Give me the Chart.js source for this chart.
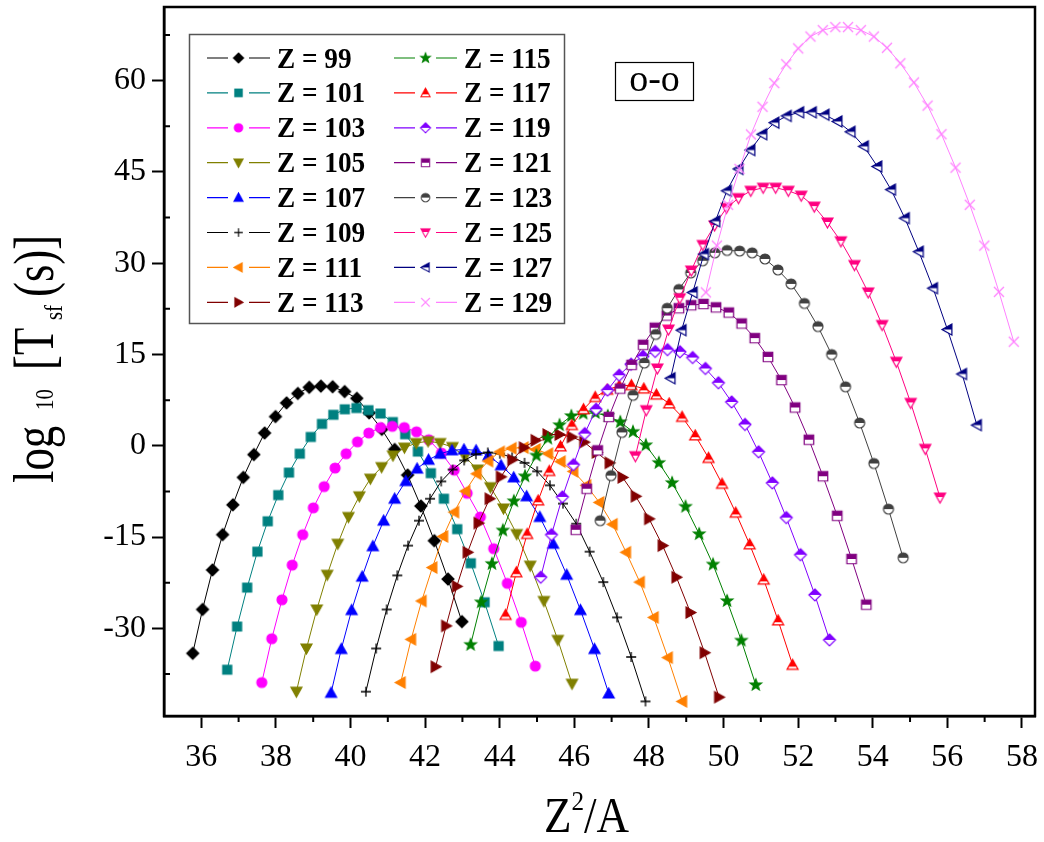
<!DOCTYPE html>
<html>
<head>
<meta charset="utf-8">
<script src="https://cdn.jsdelivr.net/npm/chart.js@4.4.1/dist/chart.umd.min.js"></script>
<style>
html,body{margin:0;padding:0;background:#ffffff;}
#wrap{position:relative;width:1044px;height:842px;}
</style>
</head>
<body>
<div id="wrap"><canvas id="chart" width="1044" height="842"></canvas></div>
<script>
// ---------------- data ----------------
const zValues = [99,101,103,105,107,109,111,113,115,117,119,121,123,125,127,129];
const xTickValues = [36,38,40,42,44,46,48,50,52,54,56,58];
const yTickValues = [-30,-15,0,15,30,45,60];
const xMinorValues = [37,39,41,43,45,47,49,51,53,55,57];
const yMinorValues = [-37.5,-22.5,-7.5,7.5,22.5,37.5,52.5,67.5];

const x99 = [35.770,36.033,36.300,36.571,36.846,37.125,37.408,37.696,37.988,38.285,38.587,38.893,39.204,39.520,39.841,40.168,40.500,40.838,41.181,41.530,41.885,42.246,42.613,42.987];
const y99 = [-34.1,-26.9,-20.4,-14.6,-9.7,-5.2,-1.45,2.1,4.8,7.05,8.6,9.6,9.8,9.7,8.9,7.8,5.4,2.7,-0.6,-4.8,-9.9,-15.6,-21.9,-28.9];
const x101 = [36.694,36.960,37.230,37.504,37.781,38.063,38.350,38.640,38.935,39.235,39.539,39.848,40.161,40.480,40.804,41.133,41.467,41.807,42.153,42.504,42.861,43.225,43.594,43.970];
const y101 = [-36.8,-29.7,-23.3,-17.4,-12.4,-8.1,-4.4,-1.3,1.45,3.6,5.1,6.0,6.2,5.85,5.3,3.9,1.9,-0.95,-4.5,-8.7,-13.7,-19.3,-25.7,-32.9];
const x103 = [37.621,37.889,38.162,38.438,38.719,39.004,39.293,39.586,39.883,40.186,40.492,40.804,41.120,41.441,41.768,42.099,42.436,42.778,43.126,43.480,43.839,44.204,44.576,44.953];
const y103 = [-38.9,-31.7,-25.3,-19.6,-14.6,-10.2,-6.7,-3.65,-1.3,0.65,2.1,3.0,3.2,3.0,2.3,1.0,-1.2,-4.0,-7.8,-11.7,-16.9,-22.6,-29.0,-36.2];
const x105 = [38.549,38.820,39.096,39.375,39.658,39.946,40.237,40.533,40.833,41.138,41.447,41.761,42.080,42.404,42.733,43.066,43.406,43.750,44.100,44.456,44.817,45.184,45.558,45.938];
const y105 = [-40.4,-33.3,-26.9,-21.2,-16.1,-11.7,-8.3,-5.4,-3.5,-1.6,-0.3,0.45,0.75,0.45,-0.2,-1.8,-3.9,-6.8,-10.3,-14.5,-19.7,-25.5,-31.9,-39.1];
const x107 = [39.479,39.753,40.031,40.313,40.599,40.889,41.183,41.482,41.785,42.092,42.404,42.720,43.041,43.367,43.698,44.035,44.376,44.723,45.075,45.433,45.796,46.165,46.541,46.922];
const y107 = [-40.6,-33.4,-27.0,-21.5,-16.5,-12.3,-8.7,-5.8,-3.75,-2.3,-1.3,-0.75,-0.6,-0.75,-1.6,-3.2,-5.2,-8.3,-11.7,-16.1,-21.2,-27.0,-33.4,-40.7];
const x109 = [40.412,40.688,40.969,41.254,41.542,41.835,42.131,42.432,42.737,43.047,43.361,43.680,44.004,44.332,44.665,45.004,45.347,45.696,46.051,46.410,46.776,47.147,47.524,47.907];
const y109 = [-40.4,-33.3,-26.9,-21.3,-16.4,-12.3,-8.7,-5.85,-3.9,-2.4,-1.4,-1.1,-1.3,-1.9,-2.8,-4.2,-6.5,-9.5,-12.8,-17.4,-22.4,-28.2,-34.7,-42.0];
const x111 = [41.346,41.625,41.908,42.195,42.486,42.781,43.080,43.384,43.691,44.004,44.320,44.641,44.967,45.298,45.633,45.974,46.320,46.670,47.027,47.388,47.756,48.129,48.508,48.893];
const y111 = [-38.9,-31.8,-25.5,-20.0,-14.9,-10.9,-7.45,-4.6,-2.5,-1.0,-0.4,-0.3,-0.6,-1.3,-2.6,-4.2,-6.5,-9.3,-12.9,-17.5,-22.4,-28.2,-34.8,-42.0];
const x113 = [42.281,42.563,42.849,43.139,43.432,43.729,44.031,44.337,44.647,44.961,45.280,45.604,45.932,46.264,46.602,46.945,47.293,47.646,48.004,48.367,48.737,49.112,49.492,49.879];
const y113 = [-36.3,-29.6,-23.1,-17.5,-12.7,-8.7,-5.1,-2.3,-0.3,0.9,1.85,1.85,1.45,0.6,-1.1,-2.8,-5.2,-8.3,-12.0,-16.4,-21.6,-27.4,-34.0,-41.3];
const x115 = [43.219,43.503,43.791,44.083,44.379,44.679,44.983,45.291,45.603,45.920,46.241,46.567,46.897,47.232,47.572,47.917,48.266,48.621,48.981,49.347,49.718,50.095,50.477,50.865];
const y115 = [-32.7,-25.7,-19.4,-13.9,-9.1,-5.0,-1.6,1.2,3.4,4.9,5.3,5.4,4.9,3.9,2.3,0.1,-2.8,-6.1,-10.0,-14.5,-19.5,-25.5,-32.0,-39.3];
const x117 = [44.158,44.445,44.735,45.030,45.328,45.630,45.936,46.247,46.561,46.880,47.203,47.531,47.864,48.201,48.543,48.889,49.241,49.598,49.960,50.327,50.700,51.078,51.462,51.852];
const y117 = [-27.8,-20.8,-14.5,-9.0,-4.15,-0.1,3.4,6.0,8.0,9.2,9.85,9.95,9.4,8.4,6.95,4.75,1.7,-2.0,-6.25,-11.0,-16.2,-22.0,-28.7,-36.0];
const x119 = [45.099,45.388,45.681,45.977,46.278,46.582,46.891,47.203,47.520,47.841,48.167,48.497,48.831,49.170,49.514,49.863,50.216,50.575,50.939,51.308,51.682,52.063,52.448,52.840];
const y119 = [-21.6,-14.6,-8.4,-3.1,2.0,6.0,9.15,11.6,13.4,14.7,15.5,15.8,15.45,14.5,12.7,10.35,7.2,3.5,-1.0,-6.1,-11.8,-17.9,-24.5,-31.9];
const x121 = [46.041,46.332,46.627,46.926,47.229,47.536,47.846,48.161,48.480,48.803,49.131,49.463,49.799,50.140,50.486,50.837,51.192,51.553,51.918,52.289,52.665,53.047,53.434,53.827];
const y121 = [-13.8,-7.05,-0.75,4.75,9.4,13.3,16.6,19.4,21.4,22.6,23.1,23.3,22.75,21.9,20.1,17.7,14.6,10.8,6.3,1.0,-5.0,-11.5,-18.6,-26.1];
const x123 = [46.694,46.984,47.278,47.575,47.877,48.182,48.490,48.803,49.120,49.441,49.766,50.096,50.430,50.768,51.111,51.459,51.812,52.169,52.531,52.899,53.271,53.649,54.032,54.421,54.815];
const y123 = [-12.3,-4.9,2.2,8.3,13.6,18.3,22.6,25.7,28.4,30.4,31.7,32.1,32.0,31.7,30.7,28.9,26.6,23.4,19.6,15.0,9.7,3.75,-2.9,-10.4,-18.4];
const x125 = [47.637,47.929,48.225,48.525,48.828,49.135,49.446,49.761,50.080,50.403,50.731,51.062,51.398,51.738,52.083,52.433,52.787,53.146,53.510,53.879,54.253,54.633,55.018,55.408,55.804];
const y125 = [-1.7,5.85,12.7,19.1,24.25,28.8,33.0,36.2,39.1,40.7,41.9,42.4,42.4,41.9,41.1,39.3,36.7,33.6,29.7,25.2,19.85,13.8,7.05,-0.5,-8.5];
const x127 = [48.581,48.876,49.174,49.475,49.781,50.090,50.403,50.720,51.041,51.366,51.696,52.029,52.367,52.709,53.056,53.407,53.763,54.124,54.490,54.861,55.236,55.617,56.003,56.395,56.792];
const y127 = [11.1,19.0,25.2,31.5,36.9,41.9,45.5,48.6,51.2,53.1,54.2,54.8,54.8,54.4,53.3,51.6,49.2,45.9,42.1,37.4,31.9,25.9,19.1,11.8,3.4];
const x129 = [49.527,49.823,50.123,50.427,50.735,51.046,51.361,51.680,52.003,52.330,52.661,52.997,53.337,53.681,54.029,54.382,54.740,55.103,55.470,55.842,56.220,56.602,56.990,57.383,57.781];
const y129 = [25.2,32.9,39.6,45.5,51.15,55.7,59.6,62.7,65.3,67.25,68.3,68.8,68.8,68.3,67.25,65.4,62.85,59.7,55.9,51.2,45.7,39.6,32.9,25.3,17.1];

const seriesX = [x99,x101,x103,x105,x107,x109,x111,x113,x115,x117,x119,x121,x123,x125,x127,x129];
const seriesY = [y99,y101,y103,y105,y107,y109,y111,y113,y115,y117,y119,y121,y123,y125,y127,y129];

// ---------------- styles ----------------
const colors = ['#000000','#008080','#FF00FF','#808000','#0000FF','#000000','#FF8000','#800000',
                '#008000','#FF0000','#8000FF','#800080','#404040','#FF0080','#000080','#FF80FF'];
const markerDefs = [
  ['diamond','full',12],['square','full',9],['circle','full',10],['down','full',11],
  ['up','full',11],['plus','line',10],['left','full',11],['right','full',11],
  ['star','full',12],['up','half',11],['diamond','half',12],['square','half',9.5],
  ['circle','half',10],['down','half',11],['left','half',11],['cross','line',10]
];

function makeMarker(shape, color, fill, size) {
  const pad = 3;
  const dim = Math.ceil(size + pad * 2);
  const c = document.createElement('canvas');
  c.width = dim; c.height = dim;
  const g = c.getContext('2d');
  g.translate(dim / 2, dim / 2);
  const r = size / 2;
  const path = () => {
    g.beginPath();
    switch (shape) {
      case 'diamond': g.moveTo(0,-r); g.lineTo(r,0); g.lineTo(0,r); g.lineTo(-r,0); g.closePath(); break;
      case 'square': g.rect(-r,-r,2*r,2*r); break;
      case 'circle': g.arc(0,0,r,0,2*Math.PI); break;
      case 'up': g.moveTo(0,-r); g.lineTo(r,r*0.8); g.lineTo(-r,r*0.8); g.closePath(); break;
      case 'down': g.moveTo(0,r); g.lineTo(r,-r*0.8); g.lineTo(-r,-r*0.8); g.closePath(); break;
      case 'left': g.moveTo(-r,0); g.lineTo(r*0.8,-r); g.lineTo(r*0.8,r); g.closePath(); break;
      case 'right': g.moveTo(r,0); g.lineTo(-r*0.8,-r); g.lineTo(-r*0.8,r); g.closePath(); break;
      case 'star':
        for (let k = 0; k < 10; k++) {
          const rr = (k % 2) ? r * 0.42 : r;
          const a = -Math.PI / 2 + k * Math.PI / 5;
          const px = rr * Math.cos(a), py = rr * Math.sin(a);
          if (k) g.lineTo(px, py); else g.moveTo(px, py);
        }
        g.closePath(); break;
      case 'plus': g.moveTo(-r,0); g.lineTo(r,0); g.moveTo(0,-r); g.lineTo(0,r); break;
      case 'cross': g.moveTo(-r,-r); g.lineTo(r,r); g.moveTo(r,-r); g.lineTo(-r,r); break;
    }
  };
  g.lineWidth = 1.2; g.strokeStyle = color; g.fillStyle = color;
  if (fill === 'full') { path(); g.fill(); g.stroke(); }
  else if (fill === 'half') {
    const split = shape === 'up' ? r * 0.3 : (shape === 'down' ? -r * 0.1 : 0);
    path(); g.fillStyle = '#ffffff'; g.fill();
    g.save(); g.beginPath(); g.rect(-dim, -dim, 2 * dim, dim + split); g.clip();
    path(); g.fillStyle = color; g.fill(); g.restore();
    path(); g.stroke();
  } else { g.lineWidth = 1.3; path(); g.stroke(); }
  return c;
}
const markers = markerDefs.map((d, i) => makeMarker(d[0], colors[i], d[1], d[2]));

const datasets = zValues.map((z, i) => ({
  label: 'Z = ' + z,
  data: seriesX[i].map((x, k) => ({ x: x, y: seriesY[i][k] })),
  showLine: true,
  borderColor: colors[i],
  backgroundColor: colors[i],
  borderWidth: 1,
  pointStyle: markers[i],
  pointRadius: 6,
  pointHoverRadius: 6,
  tension: 0,
  order: -i
}));

const SERIF = '"Liberation Serif", "Times New Roman", serif';

function drawScaledText(ctx, txt, x, y, font, sx) {
  ctx.save(); ctx.translate(x, y); ctx.scale(sx, 1); ctx.font = font; ctx.fillText(txt, 0, 0); ctx.restore();
}

const decorPlugin = {
  id: 'decor',
  afterDraw(chart) {
    const ctx = chart.ctx, a = chart.chartArea, sx = chart.scales.x, sy = chart.scales.y;
    ctx.save();
    // frame
    ctx.strokeStyle = '#000'; ctx.lineWidth = 2.5;
    ctx.strokeRect(a.left, a.top, a.right - a.left, a.bottom - a.top);
    // minor ticks
    ctx.lineWidth = 2;
    ctx.beginPath();
    xMinorValues.forEach(v => { const p = sx.getPixelForValue(v); ctx.moveTo(p, a.bottom); ctx.lineTo(p, a.bottom + 6); });
    yMinorValues.forEach(v => { const p = sy.getPixelForValue(v); ctx.moveTo(a.left, p); ctx.lineTo(a.left + 6, p); });
    ctx.stroke();

    // legend
    ctx.fillStyle = '#ffffff';
    ctx.fillRect(189, 34, 375, 289);
    ctx.strokeStyle = '#555'; ctx.lineWidth = 1.5;
    ctx.strokeRect(189.5, 34.5, 375, 289);
    datasets.forEach((ds, i) => {
      const col = Math.floor(i / 8), row = i % 8;
      const y = 58 + row * 34.9;
      const x0 = col ? 394 : 207;
      ctx.strokeStyle = ds.borderColor; ctx.lineWidth = 1.2;
      ctx.beginPath();
      ctx.moveTo(x0, y); ctx.lineTo(x0 + 21, y);
      ctx.moveTo(x0 + 42, y); ctx.lineTo(x0 + 63, y);
      ctx.stroke();
      const m = markers[i];
      const w = m.width * 0.85;
      ctx.drawImage(m, x0 + 31.5 - w / 2, y - w / 2, w, w);
      ctx.fillStyle = '#000';
      ctx.textBaseline = 'alphabetic'; ctx.textAlign = 'left';
      drawScaledText(ctx, ds.label, x0 + 70, y + 9.5, 'bold 29px ' + SERIF, 0.94);
    });

    // o-o box
    ctx.strokeStyle = '#000'; ctx.lineWidth = 1.2;
    ctx.strokeRect(615.5, 62.5, 78, 38);
    ctx.fillStyle = '#000'; ctx.textAlign = 'center'; ctx.textBaseline = 'alphabetic';
    ctx.font = '38px ' + SERIF;
    ctx.fillText('o-o', 654.5, 91);

    // x title  Z^2/A
    ctx.textAlign = 'left';
    ctx.save();
    ctx.translate(544, 832); ctx.scale(0.9, 1);
    ctx.font = '50px ' + SERIF;
    let cx = 0;
    ctx.fillText('Z', cx, 0); cx += ctx.measureText('Z').width;
    ctx.font = '28px ' + SERIF; ctx.fillText('2', cx, -22); cx += ctx.measureText('2').width;
    ctx.font = '50px ' + SERIF; ctx.fillText('/A', cx, 0);
    ctx.restore();

    // y title  log10 [Tsf (s)]
    ctx.save();
    ctx.translate(53, 0); ctx.rotate(-Math.PI / 2);
    const segs = [
      ['log', 483, 56, 0],
      ['10', 410, 26, 0],
      ['[T', 370, 56, 0],
      ['sf', 320, 26, 9],
      ['(s)]', 297, 56, 0]
    ];
    segs.forEach(s => {
      ctx.save(); ctx.translate(-s[1], s[3]); ctx.scale(0.8, 1);
      ctx.font = s[2] + 'px ' + SERIF; ctx.fillText(s[0], 0, 0); ctx.restore();
    });
    ctx.restore();
    ctx.restore();
  }
};

new Chart(document.getElementById('chart'), {
  type: 'scatter',
  data: { datasets: datasets },
  plugins: [decorPlugin],
  options: {
    responsive: false,
    animation: false,
    layout: { padding: { top: 7, right: 9, left: 0, bottom: 0 } },
    plugins: { legend: { display: false }, tooltip: { enabled: false } },
    scales: {
      x: {
        type: 'linear', min: 35, max: 58.35,
        afterBuildTicks: s => { s.ticks = xTickValues.map(v => ({ value: v })); },
        afterFit: s => { s.height = 126; s.paddingLeft = 0; s.paddingRight = 0; },
        ticks: { color: '#000', font: { family: SERIF, size: 32 }, padding: 10, maxRotation: 0, autoSkip: false,
                 callback: v => String(v) },
        grid: { drawOnChartArea: false, drawTicks: true, tickLength: 12, tickWidth: 2, tickColor: '#000' },
        border: { display: true, color: '#000', width: 2.5 }
      },
      y: {
        type: 'linear', min: -44.4, max: 72.1,
        afterBuildTicks: s => { s.ticks = yTickValues.map(v => ({ value: v })); },
        afterFit: s => { s.width = 164; s.paddingTop = 0; s.paddingBottom = 0; },
        ticks: { color: '#000', font: { family: SERIF, size: 32 }, padding: 6, autoSkip: false,
                 callback: v => String(v) },
        grid: { drawOnChartArea: false, drawTicks: true, tickLength: 12, tickWidth: 2, tickColor: '#000' },
        border: { display: true, color: '#000', width: 2.5 }
      }
    }
  }
});
</script>
</body>
</html>
